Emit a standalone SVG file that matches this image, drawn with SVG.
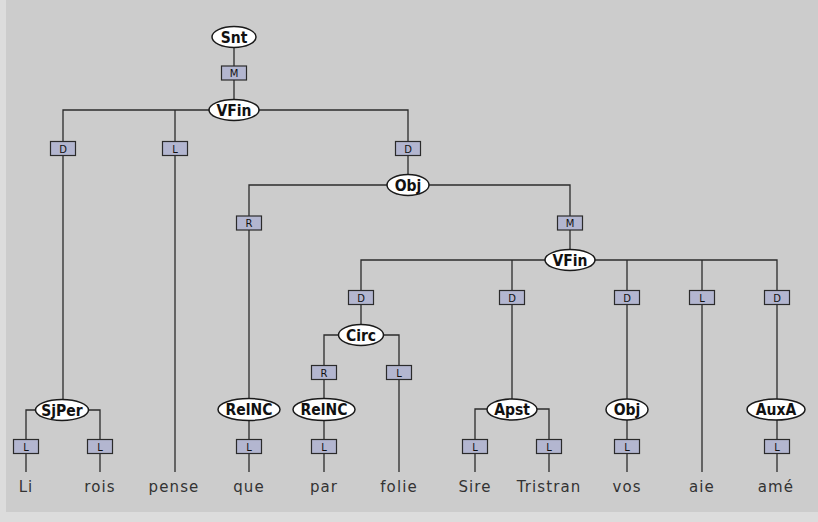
<svg xmlns="http://www.w3.org/2000/svg" width="818" height="522" viewBox="0 0 818 522">
  <style>
    .wire { stroke: #2b2b2b; stroke-width: 1.3; fill: none; }
    .rel rect { fill: #b3b6d0; stroke: #2b2b2b; stroke-width: 1.2; }
    .rel text { font-family: "DejaVu Sans", sans-serif; font-size: 10px; fill: #111; text-anchor: middle; }
    .node ellipse { fill: #ffffff; stroke: #1a1a1a; stroke-width: 1.5; }
    .node text { font-family: "DejaVu Sans Condensed", "DejaVu Sans", sans-serif; font-stretch: condensed; font-weight: bold; font-size: 15.5px; fill: #111; text-anchor: middle; }
    .word text { font-family: "DejaVu Sans", sans-serif; font-size: 15px; letter-spacing: 1.1px; fill: #333; text-anchor: middle; }
  </style>

  <!-- background panel -->
  <rect x="0" y="0" width="818" height="522" fill="#dcdcdc"/>
  <rect x="6" y="0" width="812" height="512" fill="#cccccc"/>

  <!-- connectors -->
  <g id="connectors" class="wire">
    <path d="M234 37 V110"/>
    <path d="M63 410 V110 H408 V185"/>
    <path d="M175 110 V472"/>
    <path d="M249 472 V185 H570 V260"/>
    <path d="M361 335 V260 H777 V409"/>
    <path d="M512 260 V409"/>
    <path d="M627 260 V472"/>
    <path d="M702 260 V472"/>
    <path d="M777 409 V472"/>
    <path d="M324 472 V335 H399 V472"/>
    <path d="M26 472 V410 H100 V472"/>
    <path d="M475 472 V409 H549 V472"/>
  </g>

  <!-- relation labels -->
  <g id="relations" class="rel">
    <g><rect x="221.5" y="66" width="25" height="14"/><text x="234" y="77">M</text></g>
    <g><rect x="50.5" y="141.5" width="25" height="14"/><text x="63" y="152.5">D</text></g>
    <g><rect x="162.5" y="141.5" width="25" height="14"/><text x="175" y="152.5">L</text></g>
    <g><rect x="395.5" y="141.5" width="25" height="14"/><text x="408" y="152.5">D</text></g>
    <g><rect x="236.5" y="216" width="25" height="14"/><text x="249" y="227">R</text></g>
    <g><rect x="557.5" y="216" width="25" height="14"/><text x="570" y="227">M</text></g>
    <g><rect x="348.5" y="290.5" width="25" height="14"/><text x="361" y="301.5">D</text></g>
    <g><rect x="499.5" y="290.5" width="25" height="14"/><text x="512" y="301.5">D</text></g>
    <g><rect x="614.5" y="290.5" width="25" height="14"/><text x="627" y="301.5">D</text></g>
    <g><rect x="689.5" y="290.5" width="25" height="14"/><text x="702" y="301.5">L</text></g>
    <g><rect x="764.5" y="290.5" width="25" height="14"/><text x="777" y="301.5">D</text></g>
    <g><rect x="311.5" y="365.5" width="25" height="14"/><text x="324" y="376.5">R</text></g>
    <g><rect x="386.5" y="365.5" width="25" height="14"/><text x="399" y="376.5">L</text></g>
    <g><rect x="13.5" y="439.5" width="25" height="14"/><text x="26" y="450.5">L</text></g>
    <g><rect x="87.5" y="439.5" width="25" height="14"/><text x="100" y="450.5">L</text></g>
    <g><rect x="236.5" y="439.5" width="25" height="14"/><text x="249" y="450.5">L</text></g>
    <g><rect x="311.5" y="439.5" width="25" height="14"/><text x="324" y="450.5">L</text></g>
    <g><rect x="462.5" y="439.5" width="25" height="14"/><text x="475" y="450.5">L</text></g>
    <g><rect x="536.5" y="439.5" width="25" height="14"/><text x="549" y="450.5">L</text></g>
    <g><rect x="614.5" y="439.5" width="25" height="14"/><text x="627" y="450.5">L</text></g>
    <g><rect x="764.5" y="439.5" width="25" height="14"/><text x="777" y="450.5">L</text></g>
  </g>

  <!-- category nodes -->
  <g id="n-snt" class="node"><ellipse cx="234" cy="37" rx="22" ry="10.5"/><text x="234" y="42.5">Snt</text></g>
  <g id="n-vfin1" class="node"><ellipse cx="234" cy="110" rx="25" ry="10.5"/><text x="234" y="115.5">VFin</text></g>
  <g id="n-obj1" class="node"><ellipse cx="408" cy="185" rx="21" ry="10.5"/><text x="408" y="190.5">Obj</text></g>
  <g id="n-vfin2" class="node"><ellipse cx="570" cy="260" rx="25" ry="10.5"/><text x="570" y="265.5">VFin</text></g>
  <g id="n-circ" class="node"><ellipse cx="361" cy="335" rx="22.5" ry="10.5"/><text x="361" y="340.5">Circ</text></g>
  <g id="n-sjper" class="node"><ellipse cx="62" cy="410" rx="26.5" ry="10.5"/><text x="62" y="415.5">SjPer</text></g>
  <g id="n-relnc1" class="node"><ellipse cx="249" cy="409.5" rx="31" ry="11"/><text x="249" y="415">RelNC</text></g>
  <g id="n-relnc2" class="node"><ellipse cx="324" cy="409.5" rx="31" ry="11"/><text x="324" y="415">RelNC</text></g>
  <g id="n-apst" class="node"><ellipse cx="512" cy="409.5" rx="25" ry="10.5"/><text x="512" y="415">Apst</text></g>
  <g id="n-obj2" class="node"><ellipse cx="627" cy="409.5" rx="21" ry="10.5"/><text x="627" y="415">Obj</text></g>
  <g id="n-auxa" class="node"><ellipse cx="776" cy="409.5" rx="29" ry="10.5"/><text x="776" y="415">AuxA</text></g>

  <!-- word forms -->
  <g id="w-li" class="word"><text x="26" y="492">Li</text></g>
  <g id="w-rois" class="word"><text x="100" y="492">rois</text></g>
  <g id="w-pense" class="word"><text x="174" y="492">pense</text></g>
  <g id="w-que" class="word"><text x="249" y="492">que</text></g>
  <g id="w-par" class="word"><text x="324" y="492">par</text></g>
  <g id="w-folie" class="word"><text x="399" y="492">folie</text></g>
  <g id="w-sire" class="word"><text x="475" y="492">Sire</text></g>
  <g id="w-tristran" class="word"><text x="549" y="492">Tristran</text></g>
  <g id="w-vos" class="word"><text x="627" y="492">vos</text></g>
  <g id="w-aie" class="word"><text x="702" y="492">aie</text></g>
  <g id="w-ame" class="word"><text x="776" y="492">amé</text></g>
</svg>
